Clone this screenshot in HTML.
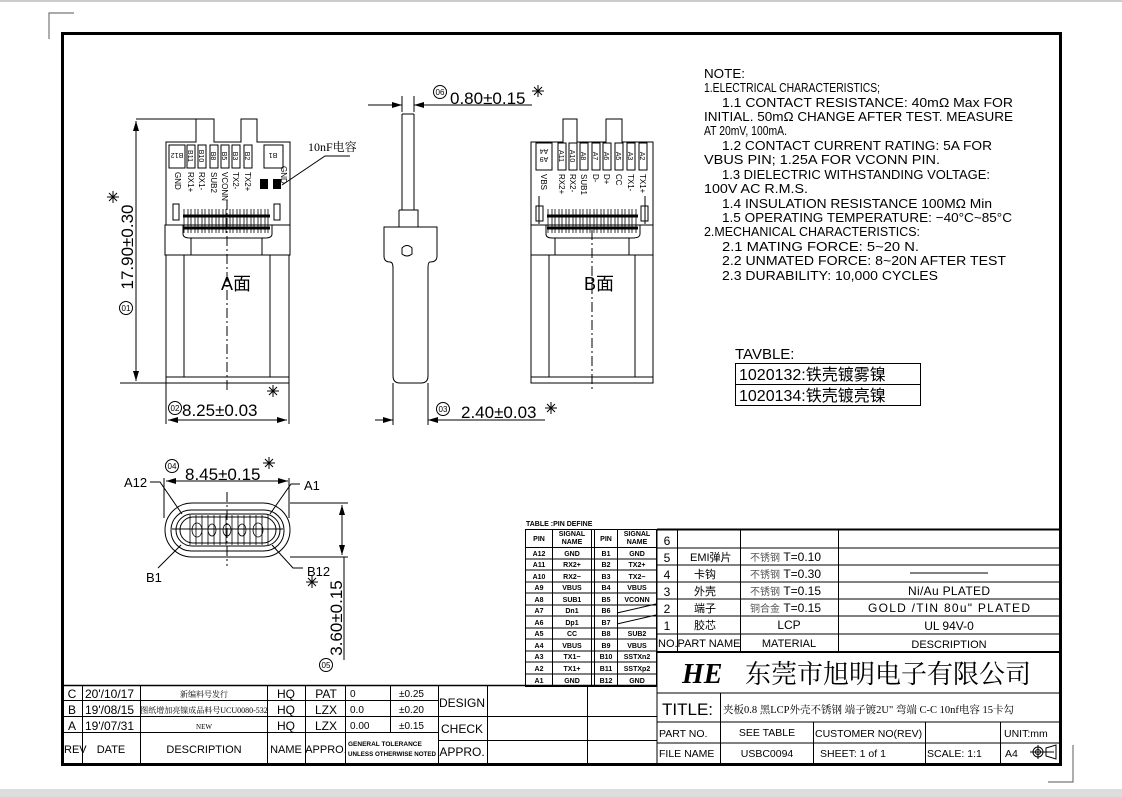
<!DOCTYPE html>
<html><head><meta charset="utf-8"><style>
html,body{margin:0;padding:0;background:#fff;}
svg{display:block;}
text{font-family:"Liberation Sans","Noto Sans CJK SC",sans-serif;fill:#000;}
.s{font-family:"Liberation Serif","Noto Serif CJK SC",serif;}
</style></head><body>
<svg width="1122" height="797" viewBox="0 0 1122 797" xmlns="http://www.w3.org/2000/svg">
<defs>
<marker id="ar" markerWidth="10" markerHeight="6" refX="10" refY="3" orient="auto" markerUnits="userSpaceOnUse"><path d="M0,0 L10,3 L0,6 z" fill="#000"/></marker>
</defs>
<rect x="0" y="0" width="1122" height="2" fill="#ccc"/>
<rect x="0" y="789" width="1122" height="8" fill="#ddd"/>
<path d="M49,39 V13 H74" stroke="#777" fill="none" stroke-width="1.2"/>
<path d="M1048,782 H1073 V745" stroke="#777" fill="none" stroke-width="1.2"/>
<rect x="62.5" y="33.5" width="998" height="731" fill="none" stroke="#000" stroke-width="3"/>

<g stroke="#000" fill="none" stroke-width="1">
<path d="M107,197 H119 M113,191 V203 M109,193 L117,201 M109,201 L117,193"/>
<path d="M267,391 H279 M273,385 V397 M269,387 L277,395 M269,395 L277,387"/>
<path d="M532,91 H544 M538,85 V97 M534,87 L542,95 M534,95 L542,87"/>
<path d="M545,408 H557 M551,402 V414 M547,404 L555,412 M547,412 L555,404"/>
<path d="M263,463 H275 M269,457 V469 M265,459 L273,467 M265,467 L273,459"/>
<path d="M306,582 H318 M312,576 V588 M308,578 L316,586 M308,586 L316,578"/>

<path d="M166,142 H196 V119 H214 V142 H241 V119 H257 V142 H290 V225 H166 Z"/>
<rect x="169" y="145" width="16" height="23"/>
<rect x="187" y="145" width="8" height="23"/><rect x="198" y="145" width="8" height="23"/>
<rect x="210" y="145" width="8" height="23"/><rect x="221" y="145" width="8" height="23"/>
<rect x="232" y="145" width="8" height="23"/><rect x="244" y="145" width="8" height="23"/>
<rect x="264" y="145" width="19" height="23"/>
<rect x="173" y="204" width="6" height="16"/><rect x="274" y="204" width="6" height="16"/>
<path d="M165,225 H290 V255 H165 Z"/>
<path d="M183,225 V234 Q183,238 190,238 H265 Q272,238 272,234 V225"/>
<path d="M191,238 V255 M262,238 V255"/>
<path d="M166,255 V383 H289 V255"/>
<path d="M184,255 V377 M270,255 V377 M166,377 H289"/>
<path d="M227,200 V390" stroke-dasharray="10,3,2,3"/>
<path d="M350,156 H325 L282,185"/>
<g stroke-width="0.8">
<path d="M184,209 V233 M188,209 V233 M191,209 V233 M195,209 V233 M198,209 V233 M202,209 V233 M205,209 V233 M209,209 V233 M212,209 V233 M216,209 V233 M219,209 V233 M223,209 V233 M226,209 V233 M230,209 V233 M233,209 V233 M237,209 V233 M240,209 V233 M244,209 V233 M247,209 V233 M251,209 V233 M254,209 V233 M258,209 V233 M261,209 V233 M265,209 V233 M268,209 V233"/>
<path d="M183,216 H270 M183,228 H270" stroke-width="3"/>
</g>
<path d="M136,119 H198 M120,383 H166"/>
<path d="M136,250 V121" marker-end="url(#ar)"/><path d="M136,250 V381" marker-end="url(#ar)"/>
<path d="M166,383 V424 M289,383 V424"/>
<path d="M227,420 H168" marker-end="url(#ar)"/><path d="M227,420 H287" marker-end="url(#ar)"/>
<circle cx="175" cy="408" r="6.5"/>
<circle cx="126" cy="308" r="6.5"/>

<path d="M402,114 V210 M414,114 V210 M402,114 H414"/>
<path d="M399,210 H418 V227 M399,210 V227 M402,200 V210"/>
<path d="M384,227 H437 V256 Q437,262 430,262 Q428,262 428,268 V376 Q428,383 421,383 H400 Q393,383 393,376 V268 Q393,262 390,262 Q384,262 384,256 Z"/>
<path d="M402,248 Q407,243 412,248 V254 Q407,258 402,254 Z"/>
<path d="M393,383 V425 M428,383 V425"/>
<path d="M402,96 V112 M414,96 V112"/>
<path d="M368,105 H402" marker-end="url(#ar)"/><path d="M532,105 H414" marker-end="url(#ar)"/>
<circle cx="440" cy="92" r="6.5"/>
<path d="M375,420 H393" marker-end="url(#ar)"/><path d="M545,420 H428" marker-end="url(#ar)"/>
<circle cx="443" cy="409" r="6.5"/>

<path d="M531,142 H563 V119 H577 V142 H606 V119 H622 V142 H653 V225 H531 Z"/>
<rect x="536" y="143" width="16" height="27"/>
<rect x="558" y="143" width="8" height="27"/><rect x="569" y="143" width="8" height="27"/>
<rect x="580" y="143" width="8" height="27"/><rect x="592" y="143" width="8" height="27"/>
<rect x="603" y="143" width="8" height="27"/><rect x="615" y="143" width="8" height="27"/>
<rect x="627" y="143" width="8" height="27"/><rect x="639" y="143" width="8" height="27"/>
<rect x="536" y="206" width="7" height="15"/><rect x="641" y="206" width="7" height="15"/>
<path d="M539,196 V224 M645,196 V224"/>
<path d="M531,225 H653 V255 H531 Z"/>
<path d="M546,225 V234 Q546,238 552,238 H633 Q640,238 640,234 V225"/>
<path d="M555,238 V255 M629,238 V255"/>
<path d="M531,255 V383 H653 V255"/>
<path d="M549,255 V377 M635,255 V377 M531,377 H653"/>
<path d="M592,230 V390" stroke-dasharray="10,3,2,3"/>
<g stroke-width="0.8">
<path d="M548,209 V233 M552,209 V233 M555,209 V233 M559,209 V233 M562,209 V233 M566,209 V233 M569,209 V233 M573,209 V233 M576,209 V233 M580,209 V233 M583,209 V233 M587,209 V233 M590,209 V233 M594,209 V233 M597,209 V233 M601,209 V233 M604,209 V233 M608,209 V233 M611,209 V233 M615,209 V233 M618,209 V233 M622,209 V233 M625,209 V233 M629,209 V233 M632,209 V233 M636,209 V233"/>
<path d="M547,216 H638 M547,228 H638" stroke-width="3"/>
</g>

<rect x="165" y="503" width="125" height="54" rx="27"/>
<rect x="171" y="510" width="113" height="41" rx="20"/>
<rect x="176" y="514" width="104" height="32" rx="16"/>
<rect x="180" y="517" width="96" height="26" rx="13"/>
<path d="M227,492 V566" stroke-dasharray="10,3,2,3"/>
<path d="M172,529 H283"/>
<g stroke-width="0.8">
<path d="M190,515 V545 M196,515 V545 M202,515 V545 M208,515 V545 M214,515 V545 M220,515 V545 M226,515 V545 M232,515 V545 M238,515 V545 M244,515 V545 M250,515 V545 M256,515 V545 M262,515 V545 M268,515 V545"/>
<ellipse cx="197" cy="530" rx="5" ry="7"/><ellipse cx="258" cy="530" rx="5" ry="7"/>
<ellipse cx="212" cy="530" rx="4" ry="6"/><ellipse cx="242" cy="530" rx="4" ry="6"/>
<ellipse cx="227" cy="530" rx="4" ry="6"/>
</g>
<path d="M164,478 V518 M289,478 V518"/>
<path d="M227,481 H166" marker-end="url(#ar)"/><path d="M227,481 H288" marker-end="url(#ar)"/>
<circle cx="172" cy="466" r="6.5"/>
<path d="M290,503 H348 M290,557 H348"/>
<path d="M342,530 V505" marker-end="url(#ar)"/><path d="M342,530 V555" marker-end="url(#ar)"/>
<path d="M344,557 V660"/>
<circle cx="326" cy="665" r="6.5"/>
<path d="M150,482 H160 L182,514"/>
<path d="M300,484 H291 L270,514"/>
<path d="M158,568 L181,545"/>
<path d="M303,568 H293 L272,545"/>
</g>

<g font-size="7" text-anchor="middle">
<text transform="translate(177,156) rotate(180)" dy="3">B12</text>
<text transform="translate(191,156) rotate(90)" dy="3">B11</text>
<text transform="translate(202,156) rotate(90)" dy="3">B10</text>
<text transform="translate(214,156) rotate(90)" dy="3">B8</text>
<text transform="translate(225,156) rotate(90)" dy="3">B5</text>
<text transform="translate(236,156) rotate(90)" dy="3">B3</text>
<text transform="translate(248,156) rotate(90)" dy="3">B2</text>
<text transform="translate(273,156) rotate(180)" dy="3">B1</text>
</g>
<g font-size="8">
<text transform="translate(178,172) rotate(90)" dy="3">GND</text>
<text transform="translate(191,172) rotate(90)" dy="3">RX1+</text>
<text transform="translate(202,172) rotate(90)" dy="3">RX1-</text>
<text transform="translate(214,172) rotate(90)" dy="3">SUB2</text>
<text transform="translate(225,172) rotate(90)" dy="3">VCONN</text>
<text transform="translate(236,172) rotate(90)" dy="3">TX2-</text>
<text transform="translate(248,172) rotate(90)" dy="3">TX2+</text>
<text transform="translate(284,166) rotate(90)" dy="3">GND</text>
</g>
<rect x="260" y="179" width="8" height="10" fill="#000"/><rect x="273" y="179" width="8" height="10" fill="#000"/>
<text x="308" y="151" font-size="12" class="s">10nF电容</text>
<text x="221" y="290" font-size="18">A面</text>
<text transform="translate(133,247) rotate(-90)" font-size="17" text-anchor="middle">17.90±0.30</text>
<text x="126" y="311" font-size="8" text-anchor="middle">01</text>
<text x="175" y="411" font-size="8" text-anchor="middle">02</text>
<text x="182" y="416" font-size="17">8.25±0.03</text>

<text x="440" y="95" font-size="8" text-anchor="middle">06</text>
<text x="450" y="104" font-size="17">0.80±0.15</text>
<text x="443" y="412" font-size="8" text-anchor="middle">03</text>
<text x="461" y="418" font-size="17">2.40±0.03</text>

<g font-size="7" text-anchor="middle">
<text transform="translate(544,156) rotate(180)" dy="-1">A9</text>
<text transform="translate(544,156) rotate(180)" dy="7">A4</text>
<text transform="translate(562,156) rotate(90)" dy="3">A11</text>
<text transform="translate(573,156) rotate(90)" dy="3">A10</text>
<text transform="translate(584,156) rotate(90)" dy="3">A8</text>
<text transform="translate(596,156) rotate(90)" dy="3">A7</text>
<text transform="translate(607,156) rotate(90)" dy="3">A6</text>
<text transform="translate(619,156) rotate(90)" dy="3">A5</text>
<text transform="translate(631,156) rotate(90)" dy="3">A3</text>
<text transform="translate(643,156) rotate(90)" dy="3">A2</text>
</g>
<g font-size="8">
<text transform="translate(544,174) rotate(90)" dy="3">VBS</text>
<text transform="translate(562,174) rotate(90)" dy="3">RX2+</text>
<text transform="translate(573,174) rotate(90)" dy="3">RX2-</text>
<text transform="translate(584,174) rotate(90)" dy="3">SUB1</text>
<text transform="translate(596,174) rotate(90)" dy="3">D-</text>
<text transform="translate(607,174) rotate(90)" dy="3">D+</text>
<text transform="translate(619,174) rotate(90)" dy="3">CC</text>
<text transform="translate(631,174) rotate(90)" dy="3">TX1-</text>
<text transform="translate(643,174) rotate(90)" dy="3">TX1+</text>
</g>
<text x="584" y="290" font-size="18">B面</text>

<text x="172" y="469" font-size="8" text-anchor="middle">04</text>
<text x="185" y="480" font-size="17">8.45±0.15</text>
<text x="124" y="487" font-size="13">A12</text>
<text x="304" y="490" font-size="13">A1</text>
<text x="146" y="582" font-size="13">B1</text>
<text x="307" y="576" font-size="13">B12</text>
<text transform="translate(342,618) rotate(-90)" font-size="17" text-anchor="middle">3.60±0.15</text>
<text x="326" y="668" font-size="8" text-anchor="middle">05</text>

<g font-size="13" lengthAdjust="spacingAndGlyphs">
<text x="704" y="78" textLength="41" lengthAdjust="spacingAndGlyphs">NOTE:</text>
<text x="704" y="92" textLength="176" lengthAdjust="spacingAndGlyphs">1.ELECTRICAL  CHARACTERISTICS;</text>
<text x="722" y="107" textLength="291" lengthAdjust="spacingAndGlyphs">1.1 CONTACT RESISTANCE: 40mΩ Max FOR</text>
<text x="704" y="121" textLength="309" lengthAdjust="spacingAndGlyphs">INITIAL. 50mΩ CHANGE AFTER TEST. MEASURE</text>
<text x="704" y="135" textLength="83" lengthAdjust="spacingAndGlyphs">AT 20mV, 100mA.</text>
<text x="722" y="150" textLength="270" lengthAdjust="spacingAndGlyphs">1.2 CONTACT CURRENT RATING: 5A FOR</text>
<text x="704" y="164" textLength="236" lengthAdjust="spacingAndGlyphs">VBUS PIN; 1.25A FOR VCONN PIN.</text>
<text x="722" y="179" textLength="268" lengthAdjust="spacingAndGlyphs">1.3 DIELECTRIC WITHSTANDING VOLTAGE:</text>
<text x="704" y="193" textLength="104" lengthAdjust="spacingAndGlyphs">100V AC R.M.S.</text>
<text x="722" y="208" textLength="270" lengthAdjust="spacingAndGlyphs">1.4 INSULATION RESISTANCE 100MΩ Min</text>
<text x="722" y="222" textLength="290" lengthAdjust="spacingAndGlyphs">1.5 OPERATING TEMPERATURE: −40°C~85°C</text>
<text x="704" y="236" textLength="216" lengthAdjust="spacingAndGlyphs">2.MECHANICAL  CHARACTERISTICS:</text>
<text x="722" y="251" textLength="197" lengthAdjust="spacingAndGlyphs">2.1 MATING FORCE: 5~20 N.</text>
<text x="722" y="265" textLength="284" lengthAdjust="spacingAndGlyphs">2.2 UNMATED FORCE: 8~20N AFTER TEST</text>
<text x="722" y="280" textLength="216" lengthAdjust="spacingAndGlyphs">2.3 DURABILITY: 10,000 CYCLES</text>
</g>
<text x="735" y="359" font-size="15">TAVBLE:</text>
<rect x="735.5" y="363.5" width="185" height="21" fill="none" stroke="#000"/>
<rect x="735.5" y="384.5" width="185" height="21" fill="none" stroke="#000"/>
<text x="739" y="380" font-size="16">1020132:铁壳镀雾镍</text>
<text x="739" y="401" font-size="16">1020134:铁壳镀亮镍</text>

<text x="526" y="526" font-size="7" font-weight="bold">TABLE :PIN DEFINE</text>
<g stroke="#000" fill="none" stroke-width="1">
<rect x="525.5" y="529.5" width="131" height="157"/>
<path d="M552.5,529 V686 M591.5,529 V686 M594.5,529 V686 M617.5,529 V686"/>
<path d="M525,547.5 H657 M525,559 H657 M525,570 H657 M525,582 H657 M525,593 H657 M525,605 H657 M525,616 H657 M525,628 H657 M525,639 H657 M525,651 H657 M525,662 H657 M525,674 H657"/>
<path d="M617,613 L656,604 M617,624 L656,615"/>
</g>
<g font-size="7" font-weight="bold" text-anchor="middle">
<text x="539" y="541">PIN</text><text x="572" y="536">SIGNAL</text><text x="572" y="544">NAME</text>
<text x="606" y="541">PIN</text><text x="637" y="536">SIGNAL</text><text x="637" y="544">NAME</text>
<text x="539" y="556">A12</text><text x="572" y="556">GND</text><text x="606" y="556">B1</text><text x="637" y="556">GND</text>
<text x="539" y="567">A11</text><text x="572" y="567">RX2+</text><text x="606" y="567">B2</text><text x="637" y="567">TX2+</text>
<text x="539" y="579">A10</text><text x="572" y="579">RX2−</text><text x="606" y="579">B3</text><text x="637" y="579">TX2−</text>
<text x="539" y="590">A9</text><text x="572" y="590">VBUS</text><text x="606" y="590">B4</text><text x="637" y="590">VBUS</text>
<text x="539" y="602">A8</text><text x="572" y="602">SUB1</text><text x="606" y="602">B5</text><text x="637" y="602">VCONN</text>
<text x="539" y="613">A7</text><text x="572" y="613">Dn1</text><text x="606" y="613">B6</text>
<text x="539" y="625">A6</text><text x="572" y="625">Dp1</text><text x="606" y="625">B7</text>
<text x="539" y="636">A5</text><text x="572" y="636">CC</text><text x="606" y="636">B8</text><text x="637" y="636">SUB2</text>
<text x="539" y="648">A4</text><text x="572" y="648">VBUS</text><text x="606" y="648">B9</text><text x="637" y="648">VBUS</text>
<text x="539" y="659">A3</text><text x="572" y="659">TX1−</text><text x="606" y="659">B10</text><text x="637" y="659">SSTXn2</text>
<text x="539" y="671">A2</text><text x="572" y="671">TX1+</text><text x="606" y="671">B11</text><text x="637" y="671">SSTXp2</text>
<text x="539" y="683">A1</text><text x="572" y="683">GND</text><text x="606" y="683">B12</text><text x="637" y="683">GND</text>
</g>

<g stroke="#000" fill="none" stroke-width="1">
<path d="M657,529.5 H1060" stroke-width="2"/>
<path d="M657,529 V765"/>
<path d="M657,548 H1060 M657,565 H1060 M657,582 H1060 M657,599 H1060 M657,616 H1060 M657,634 H1060"/>
<path d="M657,652 H1060" stroke-width="2"/>
<path d="M677.5,529 V652 M740.5,529 V652 M838.5,529 V652"/>
<path d="M657,693 H1060 M657,722 H1060 M657,743 H1060"/>
<path d="M720.5,693 V765 M813.5,722 V765 M925.5,722 V765 M1000.5,722 V765"/>
<path d="M910,573 H988"/>
<path d="M62,685.5 H657" stroke-width="1.5"/>
<path d="M62,700.5 H438 M62,716.5 H438 M62,732.5 H438 M438,716.5 H657 M438,740.5 H657"/>
<path d="M82.5,685 V765 M140.5,685 V765 M267.5,685 V765 M305.5,685 V765 M345.5,685 V765 M390.5,685 V733 M438.5,685 V765 M487.5,685 V765 M587.5,685 V765"/>
<circle cx="1038" cy="752" r="5"/><circle cx="1038" cy="752" r="2.5"/>
<path d="M1030,752 H1054 M1038,745 V759 M1046,748 L1056,745 V759 L1046,756 Z"/>
</g>
<g font-size="12">
<text x="667" y="545" text-anchor="middle">6</text>
<text x="667" y="562" text-anchor="middle">5</text>
<text x="667" y="579" text-anchor="middle">4</text>
<text x="667" y="596" text-anchor="middle">3</text>
<text x="667" y="613" text-anchor="middle">2</text>
<text x="667" y="630" text-anchor="middle">1</text>
<text x="690" y="561" font-size="11">EMI弹片</text>
<text x="694" y="578" font-size="11" fill="#555">卡钩</text>
<text x="694" y="595" font-size="11" fill="#555">外壳</text>
<text x="694" y="612" font-size="11" fill="#555">端子</text>
<text x="694" y="629" font-size="11" fill="#555">胶芯</text>
<text x="750" y="561" font-size="12"><tspan font-size="10" fill="#555">不锈钢</tspan> T=0.10</text>
<text x="750" y="578" font-size="12"><tspan font-size="10" fill="#555">不锈钢</tspan> T=0.30</text>
<text x="750" y="595" font-size="12"><tspan font-size="10" fill="#555">不锈钢</tspan> T=0.15</text>
<text x="750" y="612" font-size="12"><tspan font-size="10" fill="#555">铜合金</tspan>  T=0.15</text>
<text x="789" y="629" font-size="12" text-anchor="middle">LCP</text>
<text x="949" y="595" text-anchor="middle" font-size="12" textLength="82" lengthAdjust="spacing">Ni/Au PLATED</text>
<text x="949" y="612" text-anchor="middle" font-size="12" textLength="162" lengthAdjust="spacing">GOLD /TIN 80u" PLATED</text>
<text x="949" y="630" text-anchor="middle" font-size="12">UL  94V-0</text>
<text x="658" y="647" font-size="11">NO.PART NAME</text>
<text x="789" y="647" font-size="11" text-anchor="middle">MATERIAL</text>
<text x="949" y="648" font-size="11" text-anchor="middle">DESCRIPTION</text>
</g>
<text x="682" y="683" font-size="28" font-weight="bold" font-style="italic" class="s">HE</text>
<text x="745" y="683" font-size="26" class="s">东莞市旭明电子有限公司</text>
<text x="662" y="715" font-size="17">TITLE:</text>
<text x="723" y="713" font-size="10.5" class="s">夹板0.8 黑LCP外壳不锈钢 端子镀2U" 弯端 C-C 10nf电容 15卡勾</text>
<g font-size="10.5">
<text x="659" y="737">PART NO.</text>
<text x="767" y="736" text-anchor="middle">SEE TABLE</text>
<text x="815" y="737">CUSTOMER NO(REV)</text>
<text x="1004" y="737">UNIT:mm</text>
<text x="659" y="757">FILE NAME</text>
<text x="767" y="757" text-anchor="middle">USBC0094</text>
<text x="820" y="757">SHEET: 1  of  1</text>
<text x="927" y="757">SCALE: 1:1</text>
<text x="1005" y="757">A4</text>
</g>
<g font-size="12">
<text x="72" y="698" text-anchor="middle">C</text>
<text x="72" y="714" text-anchor="middle">B</text>
<text x="72" y="730" text-anchor="middle">A</text>
<text x="64" y="753" font-size="11">REV</text>
<text x="85" y="698">20'/10/17</text>
<text x="85" y="714">19'/08/15</text>
<text x="85" y="730">19'/07/31</text>
<text x="111" y="753" text-anchor="middle" font-size="11">DATE</text>
<text x="204" y="697" text-anchor="middle" font-size="8" class="s" fill="#444">新编料号发行</text>
<text x="204" y="713" text-anchor="middle" font-size="8" class="s" fill="#444">图纸增加亮镍成品料号UCU0080-532</text>
<text x="204" y="729" text-anchor="middle" font-size="7" class="s" fill="#444">NEW</text>
<text x="204" y="753" text-anchor="middle" font-size="11">DESCRIPTION</text>
<text x="286" y="698" text-anchor="middle">HQ</text>
<text x="286" y="714" text-anchor="middle">HQ</text>
<text x="286" y="730" text-anchor="middle">HQ</text>
<text x="286" y="753" text-anchor="middle" font-size="11">NAME</text>
<text x="326" y="698" text-anchor="middle">PAT</text>
<text x="326" y="714" text-anchor="middle">LZX</text>
<text x="326" y="730" text-anchor="middle">LZX</text>
<text x="326" y="753" text-anchor="middle" font-size="11">APPRO.</text>
<text x="350" y="697" font-size="10">0</text>
<text x="350" y="713" font-size="10">0.0</text>
<text x="350" y="729" font-size="10">0.00</text>
<text x="399" y="697" font-size="10">±0.25</text>
<text x="399" y="713" font-size="10">±0.20</text>
<text x="399" y="729" font-size="10">±0.15</text>
<text x="348" y="746" font-size="6.5" font-weight="bold">GENERAL  TOLERANCE</text>
<text x="348" y="756" font-size="6.5" font-weight="bold" textLength="88" lengthAdjust="spacingAndGlyphs">UNLESS  OTHERWISE  NOTED</text>
<text x="462" y="707" text-anchor="middle">DESIGN</text>
<text x="462" y="733" text-anchor="middle">CHECK</text>
<text x="462" y="756" text-anchor="middle">APPRO.</text>
</g>
</svg>
</body></html>
